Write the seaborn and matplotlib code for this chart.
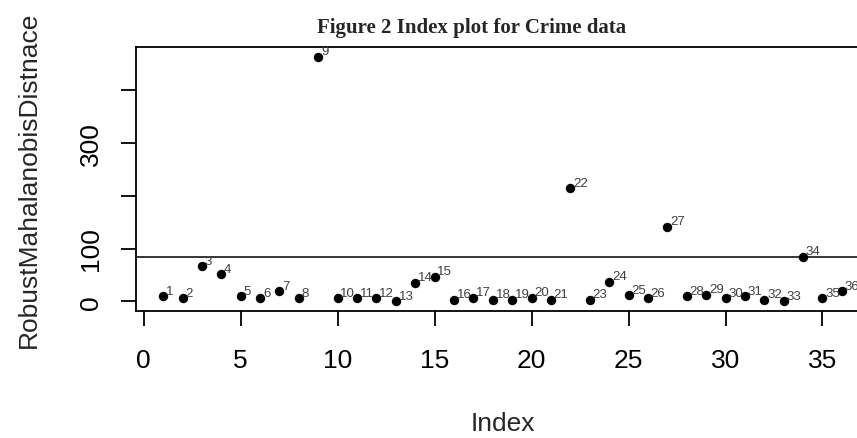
import matplotlib
matplotlib.use("Agg")
import matplotlib.pyplot as plt
import pandas as pd
import seaborn as sns

# ---- data ----
index = list(range(1, 37))
distance = [9.5, 5.7, 66.7, 50.9, 9.5, 5.7, 18.5, 5.7, 464.0, 5.7,
            5.7, 5.7, 0.0, 35.0, 46.5, 2.6, 6.4, 2.6, 2.6, 6.4,
            2.6, 214.8, 2.6, 37.0, 11.5, 5.7, 141.0, 9.0, 12.2, 5.7,
            9.0, 2.6, 0.0, 84.6, 5.7, 18.5]
point_labels = [str(i) for i in index]
cutoff = 84.6
x_ticks = [0, 5, 10, 15, 20, 25, 30, 35]
y_ticks = [0, 100, 200, 300, 400]
y_tick_labels = ["0", "100", "", "300", ""]
title = "Figure 2 Index plot for Crime data"
x_label = "Index"
y_label = "RobustMahalanobisDistnace"

sns.set_style("ticks")
plt.rcParams["font.family"] = ["Liberation Sans", "DejaVu Sans"]

df = pd.DataFrame({"Index": index, "Distance": distance, "label": point_labels})

W, H = 857, 439
fig = plt.figure(figsize=(W / 100, H / 100), dpi=100)
left, right, top, bottom = 136, 869, 48, 312
ax = fig.add_axes([left / W, 1 - bottom / H, (right - left) / W, (bottom - top) / H])

sns.scatterplot(data=df, x="Index", y="Distance", ax=ax, color="black",
                s=46, edgecolor="black", linewidth=0, legend=False, zorder=3)

for xi, yi, lab in zip(df["Index"], df["Distance"], df["label"]):
    ax.annotate(lab, (xi, yi), xytext=(2.0, 1.8), textcoords="offset points",
                ha="left", va="baseline", fontsize=9.5, color="#404040",
                clip_on=True, annotation_clip=False)

ax.axhline(cutoff, color="black", lw=1.1, zorder=2)

n = len(index)
ax.set_xlim(1 - 0.04 * (n - 1), n + 0.04 * (n - 1))
ymin, ymax = min(distance), max(distance)
rng = ymax - ymin
ax.set_ylim(ymin - 0.04 * rng, ymax + 0.04 * rng)

ax.set_xticks(x_ticks)
ax.set_xticklabels([str(t) for t in x_ticks])
ax.set_yticks(y_ticks)
ax.set_yticklabels(y_tick_labels, rotation=90, va="center")

for sp in ax.spines.values():
    sp.set_visible(True)
    sp.set_linewidth(1.3)
    sp.set_color("black")

ax.tick_params(axis="both", length=10.5, width=1.3, color="black",
               labelsize=19, labelcolor="black", direction="out")
ax.tick_params(axis="x", pad=16.5)
ax.tick_params(axis="y", pad=13)

ax.set_xlabel(x_label, fontsize=19, labelpad=28)
ax.set_ylabel(y_label, fontsize=19, labelpad=28)

fig.text(472 / W, 1 - 33 / H, title, ha="center", va="baseline",
         fontsize=15, fontweight="bold", family=["Liberation Serif", "DejaVu Serif"])

fig.savefig("out.png", dpi=100)
